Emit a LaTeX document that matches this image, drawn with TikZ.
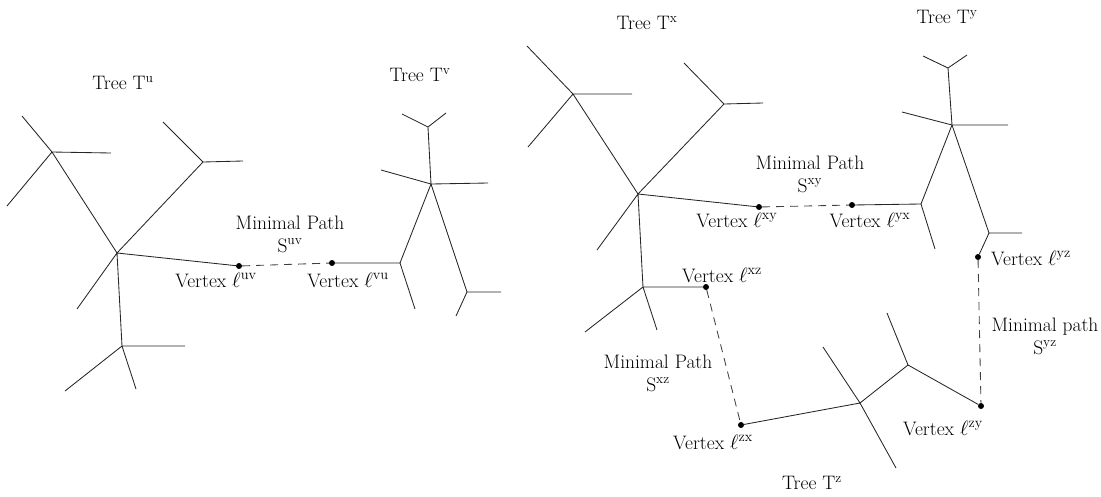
\documentclass[tikz,border=0pt]{standalone}
\begin{document}
\begin{tikzpicture}[
    x=1pt, y=-1pt,
    font=\fontsize{19.5}{23}\selectfont,
    branch/.style={
        draw=black!85,
        line width=0.85pt
    },
    minpath/.style={
        draw=black!75,
        dash pattern=on 8pt off 6pt,
        line width=0.85pt
    },
    vertex/.style={
        circle,
        fill=black,
        inner sep=0pt,
        minimum size=6pt
    },
    lbl/.style={
        align=center,
        inner sep=1pt
    }
]
\useasboundingbox (0,0) rectangle (1101,496);

\coordinate (ua) at (52,152);
\coordinate (ua1) at (22,116);
\coordinate (ua2) at (111,153);
\coordinate (ua3) at (7,206);
\coordinate (uc) at (117,253);
\coordinate (ub) at (203,162);
\coordinate (ub1) at (163,122);
\coordinate (ub2) at (243,161);
\coordinate (uc1) at (77,309);
\coordinate (ud) at (122,346);
\coordinate (ud1) at (185,346);
\coordinate (ud2) at (65,391);
\coordinate (ud3) at (136,389);
\node[vertex] (luv) at (239,266) {};

\coordinate (ve) at (400,263);
\coordinate (ve1) at (415,309);
\coordinate (vf) at (431,184);
\coordinate (vf1) at (381,170);
\coordinate (vf2) at (488,183);
\coordinate (vg) at (428,127);
\coordinate (vg1) at (402,114);
\coordinate (vg2) at (446,113);
\coordinate (vh) at (467,292);
\coordinate (vh1) at (501,292);
\coordinate (vh2) at (456,316);
\node[vertex] (lvu) at (332,263) {};

\coordinate (xp) at (573,94);
\coordinate (xp1) at (527,46);
\coordinate (xp2) at (632,94);
\coordinate (xp3) at (528,147);
\coordinate (xq) at (638,194);
\coordinate (xr) at (724,104);
\coordinate (xr1) at (684,63);
\coordinate (xr2) at (763,103);
\coordinate (xq1) at (597,250);
\coordinate (xs) at (643,287);
\coordinate (xs1) at (585,332);
\coordinate (xs2) at (657,330);
\node[vertex] (lxy) at (759,207) {};
\node[vertex] (lxz) at (706,287) {};

\coordinate (yg) at (948,68);
\coordinate (yg1) at (923,56);
\coordinate (yg2) at (967,55);
\coordinate (yf) at (952,125);
\coordinate (yf1) at (902,112);
\coordinate (yf2) at (1008,125);
\coordinate (ye) at (921,204);
\coordinate (ye1) at (935,249);
\coordinate (yh) at (989,233);
\coordinate (yh1) at (1022,233);
\node[vertex] (lyx) at (852,205) {};
\node[vertex] (lyz) at (978,257) {};

\coordinate (zc) at (860,403);
\coordinate (zc1) at (823,347);
\coordinate (zc2) at (896,468);
\coordinate (zw) at (908,365);
\coordinate (zw1) at (887,313);
\node[vertex] (lzx) at (741,425) {};
\node[vertex] (lzy) at (981,406) {};

\draw[branch] (ua1) -- (ua) -- (ua2) (ua3) -- (ua) -- (uc);
\draw[branch] (uc) -- (ub) -- (ub1) (ub) -- (ub2);
\draw[branch] (uc) -- (uc1) (uc) -- (luv) (uc) -- (ud);
\draw[branch] (ud) -- (ud1) (ud) -- (ud2) (ud) -- (ud3);

\draw[branch] (lvu) -- (ve) -- (ve1) (ve) -- (vf);
\draw[branch] (vf) -- (vf1) (vf) -- (vf2) (vf) -- (vg) (vf) -- (vh);
\draw[branch] (vg) -- (vg1) (vg) -- (vg2);
\draw[branch] (vh) -- (vh1) (vh) -- (vh2);

\draw[branch] (xp1) -- (xp) -- (xp2) (xp3) -- (xp) -- (xq);
\draw[branch] (xq) -- (xr) -- (xr1) (xr) -- (xr2);
\draw[branch] (xq) -- (xq1) (xq) -- (lxy) (xq) -- (xs);
\draw[branch] (xs) -- (lxz) (xs) -- (xs1) (xs) -- (xs2);

\draw[branch] (yg1) -- (yg) -- (yg2) (yg) -- (yf);
\draw[branch] (yf) -- (yf1) (yf) -- (yf2) (yf) -- (ye) (yf) -- (yh);
\draw[branch] (ye) -- (lyx) (ye) -- (ye1);
\draw[branch] (yh) -- (yh1) (yh) -- (lyz);

\draw[branch] (zc1) -- (zc) -- (zc2) (zc) -- (lzx) (zc) -- (zw);
\draw[branch] (zw) -- (zw1) (zw) -- (lzy);

\draw[minpath] (luv) -- (lvu);
\draw[minpath] (lxy) -- (lyx);
\draw[minpath] (lxz) -- (lzx);
\draw[minpath] (lyz) -- (lzy);

\node[lbl] (tu) at (123,83) {Tree T\textsuperscript{u}};
\node[lbl] (tv) at (420,75) {Tree T\textsuperscript{v}};
\node[lbl] (tx) at (647,23) {Tree T\textsuperscript{x}};
\node[lbl] (ty) at (947,17) {Tree T\textsuperscript{y}};
\node[lbl] (tz) at (812,483) {Tree T\textsuperscript{z}};

\node[lbl] (suv) at (290,234) {Minimal Path\\S\textsuperscript{uv}};
\node[lbl] (vuv) at (216,280) {Vertex $\ell^{\mathrm{uv}}$};
\node[lbl] (vvu) at (348,280) {Vertex $\ell^{\mathrm{vu}}$};

\node[lbl] (sxy) at (810,174) {Minimal Path\\S\textsuperscript{xy}};
\node[lbl] (vxy) at (737,220) {Vertex $\ell^{\mathrm{xy}}$};
\node[lbl] (vyx) at (870,220) {Vertex $\ell^{\mathrm{yx}}$};

\node[lbl] (vyz) at (1031,258) {Vertex $\ell^{\mathrm{yz}}$};
\node[lbl] (syz) at (1045,336) {Minimal path\\S\textsuperscript{yz}};
\node[lbl] (vzy) at (943,428) {Vertex $\ell^{\mathrm{zy}}$};

\node[lbl] (vxz) at (722,275) {Vertex $\ell^{\mathrm{xz}}$};
\node[lbl] (sxz) at (658,373) {Minimal Path\\S\textsuperscript{xz}};
\node[lbl] (vzx) at (713,442) {Vertex $\ell^{\mathrm{zx}}$};
\end{tikzpicture}
\end{document}
